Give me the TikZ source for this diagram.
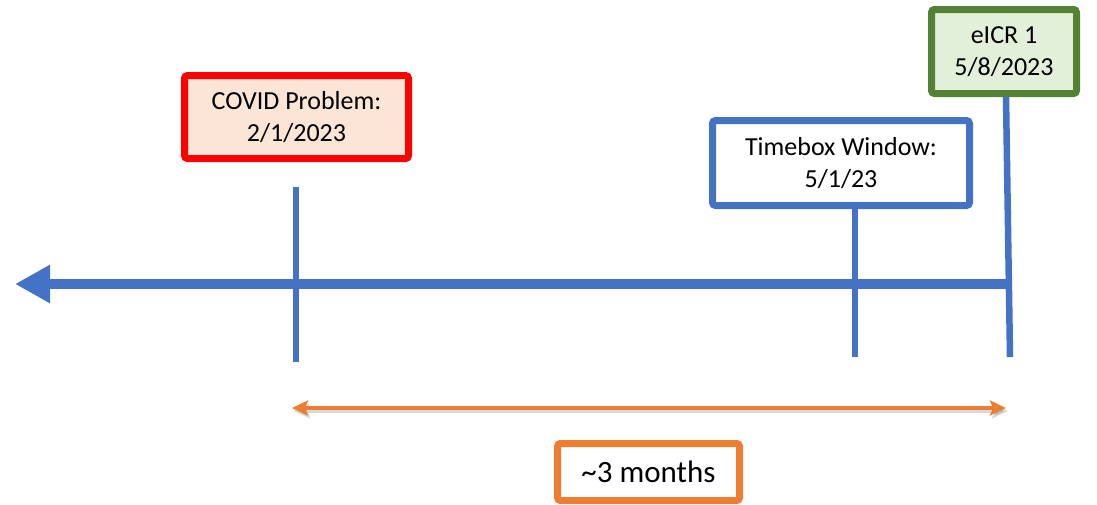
\documentclass[tikz,border=0pt]{standalone}
\usepackage{fontspec}
\setmainfont{Carlito}
\usetikzlibrary{arrows.meta}
\definecolor{lineblue}{HTML}{4472C4}
\definecolor{spanorange}{HTML}{ED7D31}
\definecolor{covidred}{HTML}{FF0000}
\definecolor{covidfill}{HTML}{FBE5D6}
\definecolor{eicrgreen}{HTML}{548235}
\definecolor{eicrfill}{HTML}{E2F0D9}
\begin{document}
\begin{tikzpicture}[
		x=1pt, y=-1pt,
		datebox/.style={draw, line width=7pt, rounded corners=3pt, align=center,
				inner sep=0pt, font=\fontsize{26}{32}\selectfont},
		datetick/.style={lineblue, line width=6.5pt},
		spanarrow/.style={line width=4pt,
				{Stealth[length=16pt,width=15pt,inset=3pt]}-{Stealth[length=16pt,width=15pt,inset=3pt]}}
	]
	\useasboundingbox (0,0) rectangle (1097,504);

	% boxes
	\node[datebox, draw=covidred, fill=covidfill, minimum width=224pt, minimum height=83pt]
	(covid) at (296.5,117) {COVID Problem:\\2/1/2023};
	\node[datebox, draw=lineblue, fill=white, minimum width=257pt, minimum height=85pt]
	(timebox) at (841,163) {Timebox Window:\\5/1/23};
	\node[datebox, draw=eicrgreen, fill=eicrfill, minimum width=145pt, minimum height=84pt]
	(eicr) at (1004,51.5) {eICR 1\\5/8/2023};
	\node[datebox, draw=spanorange, fill=white, minimum width=182pt, minimum height=57pt,
		font=\fontsize{31}{36}\selectfont]
	(span) at (648.5,472) {\textasciitilde3 months};

	% timeline
	\coordinate (linestart) at (15,284);
	\coordinate (lineend) at (1010,284);
	\draw[lineblue, line width=10pt, -{Triangle[length=35pt,width=36pt]}] (lineend) -- (linestart);

	% ticks
	\coordinate (covidtop) at (296,187);
	\coordinate (covidbot) at (296,362);
	\coordinate (timeboxbot) at (855,357);
	\coordinate (eicrtop) at (1006,97);
	\coordinate (eicrbot) at (1010,357);
	\draw[datetick] (covidtop) -- (covidbot);
	\draw[datetick] (timebox.south -| timeboxbot) -- (timeboxbot);
	\draw[datetick] (eicrtop) -- (eicrbot);

	% span arrow
	\coordinate (spanleft) at (292,408);
	\coordinate (spanright) at (1006,408);
	\draw[spanarrow, black, opacity=0.15, transform canvas={xshift=2pt, yshift=-3pt}]
	(spanleft) -- (spanright);
	\draw[spanarrow, spanorange] (spanleft) -- (spanright);
\end{tikzpicture}
\end{document}
